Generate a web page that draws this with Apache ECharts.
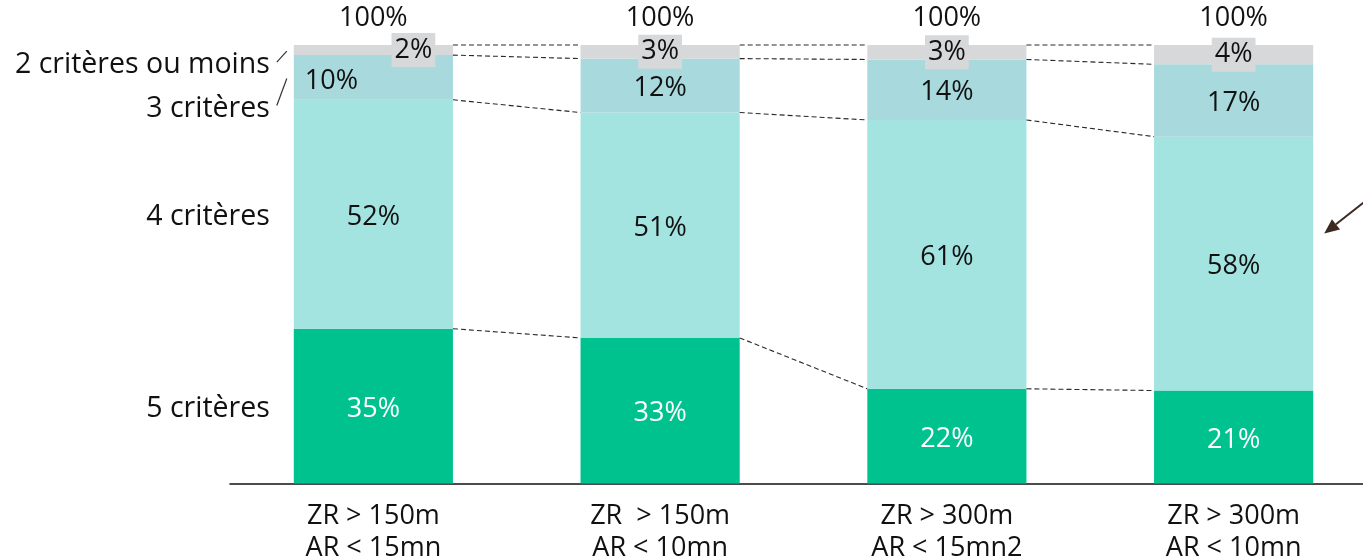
<!DOCTYPE html>
<html><head><meta charset="utf-8">
<script src="https://cdn.jsdelivr.net/npm/echarts@6/dist/echarts.min.js"></script>
<style>html,body{margin:0;padding:0;background:#fff}#chart{width:1363px;height:559px}</style>
</head><body><div id="chart"></div>
<script>
const categories = ['ZR > 150m\nAR < 15mn', 'ZR  > 150m\nAR < 10mn', 'ZR > 300m\nAR < 15mn2', 'ZR > 300m\nAR < 10mn'];
const seriesNames = ['5 critères', '4 critères', '3 critères', '2 critères ou moins'];
const cinqCriteres = [35.3, 33.2, 21.6, 21.2];
const quatreCriteres = [52.2, 51.4, 61.3, 57.9];
const troisCriteres = [10.2, 12.3, 13.8, 16.5];
const deuxOuMoins = [2.3, 3.1, 3.3, 4.4];

const colors = ['#00C28F', '#A3E4E1', '#A8D9DD', '#D7D8DA'];
const FONT = '"Open Sans", sans-serif';
const FS = 27;
const FS_SIDE = 28.5;
const TXT = '#111111';
const BAR_RATIO = 0.555;

const stacks = [cinqCriteres, quatreCriteres, troisCriteres, deuxOuMoins];
const cumul = categories.map((_, i) => { let s = 0; return stacks.map(arr => (s += arr[i])); });
const pct = v => Math.round(v) + '%';

// per-item label tweaks (style only)
const labelTweaks = {
  '3-0': { offset: [40, 0] },
  '2-0': { offset: [-42, 4] }
};

const barSeries = stacks.map((arr, k) => ({
  name: seriesNames[k],
  type: 'bar',
  stack: 'total',
  barWidth: (BAR_RATIO * 100) + '%',
  itemStyle: { color: colors[k] },
  label: Object.assign({
    show: true,
    position: 'inside',
    formatter: p => pct(p.value),
    color: k === 0 ? '#ffffff' : TXT,
    fontSize: FS,
    fontFamily: FONT,
    offset: [0, 3]
  }, k === 3 ? { backgroundColor: colors[3], padding: [3, 3, 1, 3], lineHeight: 30, offset: [0, 0] } : {}),
  data: arr.map((v, i) => {
    const t = labelTweaks[k + '-' + i];
    return t ? { value: v, label: t } : v;
  })
}));

const annotSeries = {
  type: 'custom',
  silent: true,
  clip: false,
  z: 5,
  data: categories.map((_, i) => [i, cumul[i][3]]),
  renderItem: (params, api) => {
    const i = params.dataIndex;
    const children = [];
    const catW = api.size([1, 0])[0];
    const half = catW * BAR_RATIO / 2;
    const top = api.coord([i, cumul[i][3]]);
    children.push({
      type: 'text',
      style: { text: pct(cumul[i][3]), x: top[0], y: top[1] - 27, align: 'center', verticalAlign: 'middle',
               font: FS + 'px ' + FONT, fill: TXT }
    });
    if (i < categories.length - 1) {
      cumul[i].forEach((c, k) => {
        const a = api.coord([i, c]);
        const b = api.coord([i + 1, cumul[i + 1][k]]);
        children.push({
          type: 'line',
          shape: { x1: a[0] + half, y1: a[1], x2: b[0] - half, y2: b[1] },
          style: { stroke: '#2a2a2a', lineWidth: 1.1, lineDash: [5, 3] }
        });
      });
    }
    if (i === 0) {
      const barLeft = top[0] - half;
      const lblShift = [3, 3, 31, 15];
      stacks.forEach((arr, k) => {
        const mid = api.coord([i, cumul[i][k] - arr[i] / 2]);
        const ly = mid[1] + lblShift[k];
        children.push({
          type: 'text',
          style: { text: seriesNames[k], x: barLeft - 24, y: ly, align: 'right', verticalAlign: 'middle',
                   font: FS_SIDE + 'px ' + FONT, fill: TXT }
        });
        if (k >= 2) {
          children.push({
            type: 'line',
            shape: { x1: barLeft - 17, y1: ly - 3, x2: barLeft - 7, y2: mid[1] + 1 },
            style: { stroke: '#333333', lineWidth: 1.2 }
          });
        }
      });
    }
    if (i === categories.length - 1) {
      const mid = api.coord([i, cumul[i][1] - quatreCriteres[i] / 2]);
      const tip = [top[0] + half + 11, mid[1] - 30];
      const tail = [tip[0] + 52, tip[1] - 41];
      const dx = tail[0] - tip[0], dy = tail[1] - tip[1];
      const len = Math.sqrt(dx * dx + dy * dy);
      const ux = dx / len, uy = dy / len;
      const hl = 15, hw = 6.5;
      const base = [tip[0] + ux * hl, tip[1] + uy * hl];
      children.push({
        type: 'line',
        shape: { x1: base[0], y1: base[1], x2: tail[0], y2: tail[1] },
        style: { stroke: '#3B2A20', lineWidth: 2 }
      });
      children.push({
        type: 'polygon',
        shape: { points: [tip, [base[0] - uy * hw, base[1] + ux * hw], [base[0] + uy * hw, base[1] - ux * hw]] },
        style: { fill: '#3B2A20' }
      });
    }
    return { type: 'group', children };
  }
};

const chart = echarts.init(document.getElementById('chart'), null, { renderer: 'canvas' });
chart.setOption({
  animation: false,
  backgroundColor: '#ffffff',
  grid: { left: 230, width: 1147, top: 45, height: 438.5, containLabel: false, outerBoundsMode: 'none' },
  xAxis: {
    type: 'category',
    data: categories,
    axisLine: { lineStyle: { color: '#111111', width: 1.5 } },
    axisTick: { show: false },
    axisLabel: { color: TXT, fontSize: FS, fontFamily: FONT, lineHeight: 32, margin: 17, interval: 0 }
  },
  yAxis: { type: 'value', min: 0, max: 100, show: false },
  series: barSeries.concat([annotSeries])
});
</script>
</body></html>
